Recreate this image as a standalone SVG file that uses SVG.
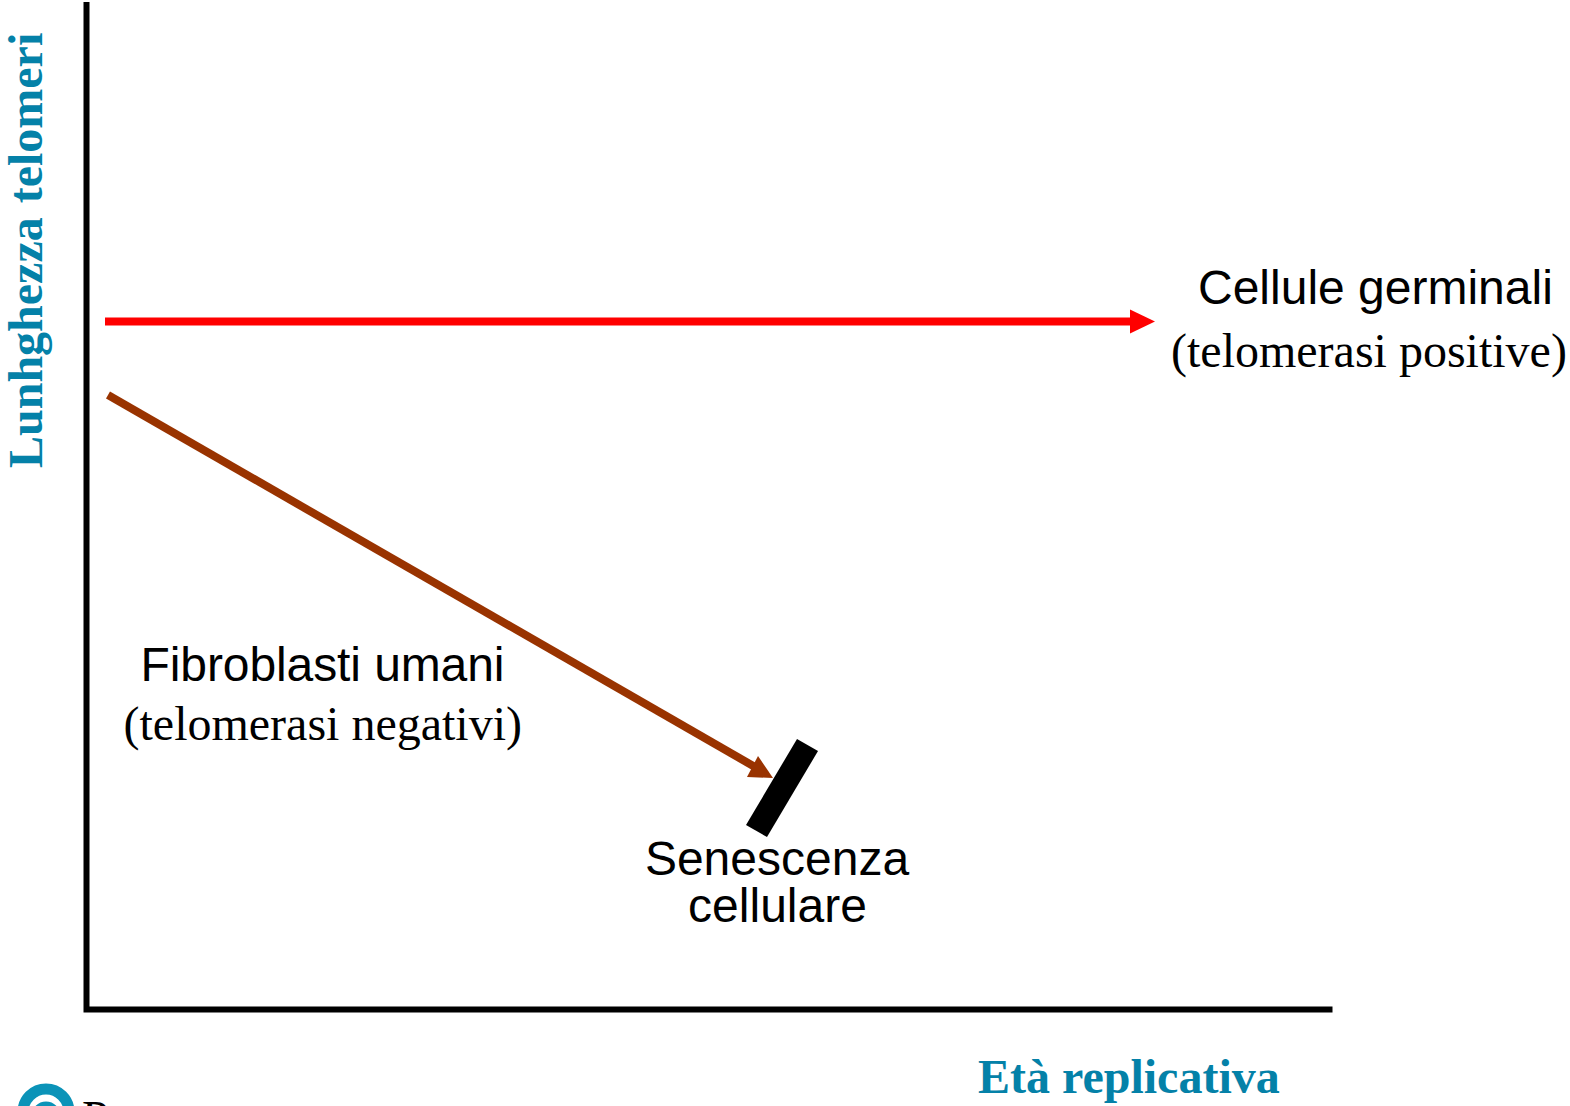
<svg xmlns="http://www.w3.org/2000/svg" width="1570" height="1106" viewBox="0 0 1570 1106">
<style>
.sans{font-family:"Liberation Sans",Arial,sans-serif;font-size:48px;fill:#000}
.serif{font-family:"Liberation Serif","Times New Roman",serif;font-size:48px;fill:#000}
.axis{font-family:"Liberation Serif","Times New Roman",serif;font-size:48px;font-weight:bold;fill:#0481a8;white-space:pre}
.ax{stroke:#000;stroke-width:6;fill:none}
</style>
<rect width="1570" height="1106" fill="#fff"/>
<g id="axes"><path class="ax" d="M86.500 2V1009.500H1332.500"/></g>
<g id="connectors">
<path d="M105 321.500H1131" stroke="#ff0000" stroke-width="8" fill="none"/>
<path d="M1130 309.500L1155 321.500L1130 333.500Z" fill="#ff0000"/>
<path d="M108 395L755 767" stroke="#993300" stroke-width="8" fill="none"/>
<path d="M758 756L773 778L747 777Z" fill="#993300"/>
</g>
<g id="bar"><path d="M797 739L818 751L767 837L746 825Z" fill="#000"/></g>
<g id="y-label"><text class="axis" transform="translate(42 468) rotate(-90)" xml:space="preserve" word-spacing="-5">Lunhghezza  telomeri</text></g>
<g id="x-label"><text class="axis" x="978" y="1093">Età replicativa</text></g>
<g id="germinal"><text class="sans" x="1198" y="304">Cellule germinali</text><text class="serif" x="1171" y="367">(telomerasi positive)</text></g>
<g id="fibroblasts"><text class="sans" x="140.500" y="681" textLength="364">Fibroblasti umani</text><text class="serif" x="123.500" y="740">(telomerasi negativi)</text></g>
<g id="senescence"><text class="sans" x="777" y="875" text-anchor="middle">Senescenza</text><text class="sans" x="777.500" y="922" text-anchor="middle">cellulare</text></g>
<g id="logo"><circle cx="46" cy="1112" r="23" fill="none" stroke="#0b93b8" stroke-width="11"/><circle cx="46" cy="1116" r="11" fill="none" stroke="#0b93b8" stroke-width="7"/><text class="serif" x="82" y="1134" font-size="42">P</text></g>
</svg>
